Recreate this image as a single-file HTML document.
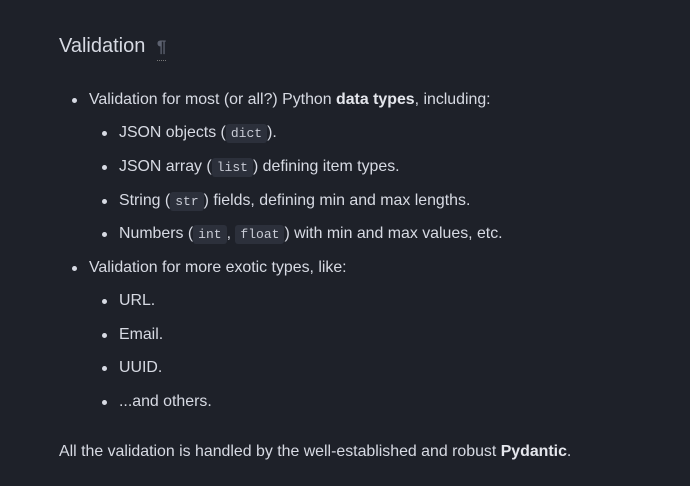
<!DOCTYPE html>
<html><head><meta charset="utf-8"><style>
html,body{margin:0;padding:0;background:#1e2129;width:690px;height:486px;overflow:hidden}
body{font-family:"Liberation Sans",sans-serif;color:#d7dae3;font-size:15.9px;position:relative}
.l{position:absolute;white-space:nowrap;line-height:20px}
.b{position:absolute;width:5px;height:5px;border-radius:50%;background:#d7dae3}
code{font-family:"Liberation Mono",monospace;font-size:13px;background:#2c303b;border-radius:3px;padding:2px 5px;color:#c9ccd6}
b{font-weight:bold;color:#e4e6ec}
h2{position:absolute;left:59px;top:35px;margin:0;font-weight:normal;font-size:20px;color:#d7dae3}
.p{color:#5d6270;font-size:17px;font-weight:bold;margin-left:6px;border-bottom:1px dotted #777;padding-bottom:4px}
</style></head><body>
<h2>Validation <span class="p">¶</span></h2>
<div class="b" style="left:72px;top:98px"></div><div class="l" style="left:89px;top:90px">Validation for most (or all?) Python <b>data types</b>, including:</div>
<div class="b" style="left:102px;top:131px"></div><div class="l" style="left:119px;top:123px">JSON objects (<code>dict</code>).</div>
<div class="b" style="left:102px;top:165px"></div><div class="l" style="left:119px;top:157px">JSON array (<code>list</code>) defining item types.</div>
<div class="b" style="left:102px;top:199px"></div><div class="l" style="left:119px;top:191px">String (<code>str</code>) fields, defining min and max lengths.</div>
<div class="b" style="left:102px;top:232px"></div><div class="l" style="left:119px;top:224px">Numbers (<code>int</code>, <code>float</code>) with min and max values, etc.</div>
<div class="b" style="left:72px;top:266px"></div><div class="l" style="left:89px;top:258px">Validation for more exotic types, like:</div>
<div class="b" style="left:102px;top:299px"></div><div class="l" style="left:119px;top:291px">URL.</div>
<div class="b" style="left:102px;top:333px"></div><div class="l" style="left:119px;top:325px">Email.</div>
<div class="b" style="left:102px;top:366px"></div><div class="l" style="left:119px;top:358px">UUID.</div>
<div class="b" style="left:102px;top:400px"></div><div class="l" style="left:119px;top:392px">...and others.</div>
<div class="l" style="left:59px;top:442px">All the validation is handled by the well-established and robust <b>Pydantic</b>.</div>
</body></html>
